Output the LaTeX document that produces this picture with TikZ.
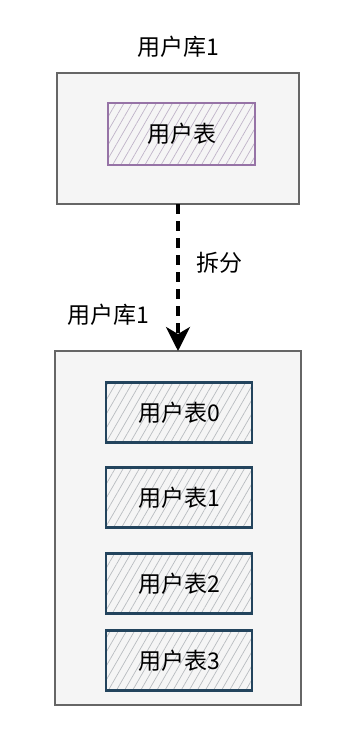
\documentclass[tikz,border=0pt]{standalone}
\usepackage{fontspec}
\newfontfamily\cjk{Noto Sans CJK SC}
\usetikzlibrary{arrows.meta,positioning,patterns.meta}

\definecolor{dbfill}{HTML}{F5F5F5}
\definecolor{dbline}{HTML}{666666}
\definecolor{purpleline}{HTML}{9673A6}
\definecolor{purplehatch}{HTML}{BFB3C8}
\definecolor{blueline}{HTML}{23445D}
\definecolor{bluehatch}{HTML}{B8BCC0}

\begin{document}
\begin{tikzpicture}[
  x=1pt,y=-1pt,
  font=\cjk\fontsize{23}{26}\selectfont,
  dbbox/.style={draw=dbline,line width=1.5pt,fill=dbfill,inner sep=0pt,outer sep=0pt},
  tablebox/.style={draw=purpleline,line width=2.2pt,inner sep=0pt,
    minimum width=147pt,minimum height=62pt,
    pattern={Lines[angle=60,distance=7pt,line width=0.7pt]},pattern color=purplehatch},
  shard/.style={draw=blueline,line width=2.4pt,inner sep=0pt,outer sep=0pt,
    minimum width=146pt,minimum height=60pt,
    pattern={Lines[angle=60,distance=7pt,line width=0.7pt]},pattern color=bluehatch},
  flow/.style={-{Stealth[length=24pt,width=24pt,inset=7pt]},line width=3.5pt,
    dash pattern=on 10pt off 7pt},
  note/.style={inner sep=0pt,text=black}
]
  \useasboundingbox[fill=white] (0,0) rectangle (358,752);

  % source database
  \node[note] (srctitle) at (178,47) {用户库1};
  \node[dbbox,minimum width=242pt,minimum height=131pt] (srcdb) at (178,138.5) {};
  \node[tablebox] (usertable) at (181.5,134) {用户表};

  % split database
  \node[note] (dsttitle) at (108.5,315) {用户库1};
  \node[dbbox,minimum width=246pt,minimum height=354pt] (dstdb) at (178,528) {};
  \node[shard] (shard0) at (179,412.5) {用户表0};
  \node[shard,below=25pt of shard0] (shard1) {用户表1};
  \node[shard,below=26pt of shard1] (shard2) {用户表2};
  \node[shard,below=17pt of shard2] (shard3) {用户表3};

  \draw[flow] (srcdb.south) -- node[note,pos=0.4,right=17pt] {拆分} (dstdb.north);
\end{tikzpicture}
\end{document}
